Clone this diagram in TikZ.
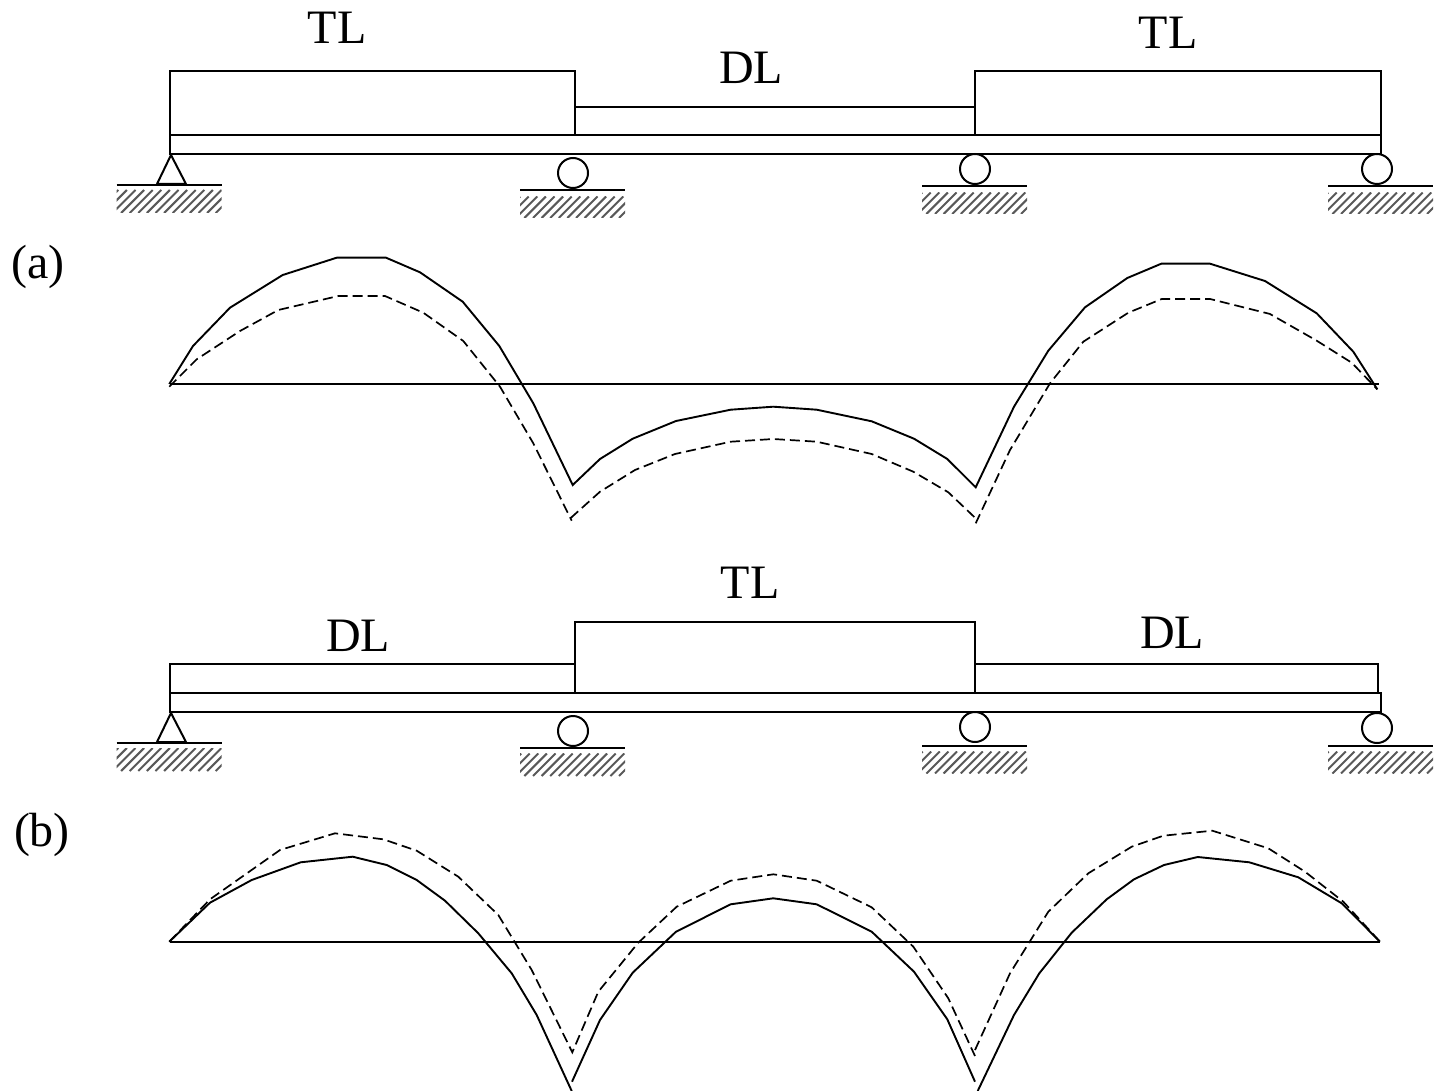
\documentclass[tikz,border=0pt]{standalone}
\usepackage{fontspec}
\setmainfont{Liberation Serif}
\newcommand{\hatchband}[4]{%
  \begin{scope}
    \clip (#1,#2) rectangle (#3,#4);
    \foreach \d in {0,8.6,...,146}
      \draw[hatchline] ({#1+\d-30},#4) -- ({#1+\d-30+(#4)-(#2)},#2);
  \end{scope}}
\newcommand{\roller}[5]{% cx, cy, ground y, hatch bottom, ground centre
  \draw[member] (#1,#2) circle[radius=15pt];
  \draw[member] ({#5-52.5},#3) -- ({#5+52.5},#3);
  \hatchband{#5-52.5}{#3+6}{#5+52.5}{#4}}
\newcommand{\hinge}[3]{% apex y, ground y, hatch bottom (x fixed)
  \draw[member] (171,#1) -- (157,#1+29) -- (186,#1+29) -- cycle;
  \draw[member] (116.7,#2) -- (221.7,#2);
  \hatchband{116.7}{#2+5}{221.7}{#3}}
\begin{document}
\begin{tikzpicture}[x=1pt,y=-1pt,
  member/.style={line width=2pt,black,line join=miter},
  moment/.style={line width=1.9pt,black,line join=miter},
  altmoment/.style={line width=1.7pt,black,dash pattern=on 10pt off 5pt},
  axisline/.style={line width=2.2pt,black},
  hatchline/.style={line width=2pt,black!65},
  lab/.style={font=\fontsize{48}{50}\selectfont,inner sep=0pt,text=black}]
\useasboundingbox (0,0) rectangle (1437,1091);
\fill[white] (0,0) rectangle (1437,1091);

% Beam (a)
\draw[member] (170,135) rectangle (1381,154);
\draw[member] (170,135) rectangle (575,71);
\draw[member] (575,135) -- (575,107) -- (975,107) -- (975,135);
\draw[member] (975,135) rectangle (1381,71);
\hinge{155}{185}{213}
\roller{573}{173}{190.5}{218}{572.5}
\roller{975}{169}{186.5}{214}{974.5}
\roller{1377}{169}{186.5}{214}{1380.5}
\node[lab] (tla) at (337,28) {TL};
\node[lab] (dla) at (751,68) {DL};
\node[lab] (tlb) at (1168,33) {TL};
\node[lab] (capa) at (38,267) {(a)};

% Moment (a)
\draw[axisline] (170,383.7) -- (1378.5,383.7);
\draw[moment] (169.3,384) -- (193,346) -- (230,307.7) -- (282.7,275) -- (336.7,257.7) -- (386,257.7) -- (420,272.3) -- (462.7,301.7) -- (499.3,346) -- (533.3,403.3) -- (572.7,485) -- (600,459) -- (632.7,438.7) -- (676,421) -- (730.7,409.7) -- (773.3,406.7) -- (816.7,409.7) -- (871.7,421.3) -- (914,438.7) -- (947.3,459) -- (975.7,487.3) -- (1014,406.7) -- (1048.3,350.7) -- (1085,307.3) -- (1127.3,278) -- (1161.3,263.7) -- (1210,263.7) -- (1265,281) -- (1316.7,313.3) -- (1353.3,351.7) -- (1377.3,389.3);
\draw[altmoment] (169.3,386.7) -- (196.7,359.3) -- (240,331) -- (278.3,310) -- (338.3,296) -- (385,296) -- (423.3,312.7) -- (463.3,341) -- (500,386.7) -- (533.3,443.3) -- (571.7,520.7);
\draw[altmoment] (570.7,518) -- (600,491.7) -- (635,470) -- (675,454) -- (730.7,441.7) -- (773.3,439) -- (816.7,441.7) -- (871.7,454) -- (913.3,471.7) -- (948.3,492.3) -- (976.7,519.3);
\draw[altmoment] (975.7,523.3) -- (1010,450) -- (1050,383.3) -- (1083.3,341.7) -- (1128.3,312.7) -- (1161.7,299) -- (1210,299) -- (1270,314) -- (1316.7,340.7) -- (1351.7,362.7) -- (1377.3,389.3);

% Beam (b)
\draw[member] (170,693) rectangle (1381,712);
\draw[member] (170,693) rectangle (575,664);
\draw[member] (575,693) rectangle (975,622);
\draw[member] (975,693) -- (975,664) -- (1378,664) -- (1378,693);
\hinge{713}{743}{771}
\roller{573}{731}{747.5}{776}{572.5}
\roller{975}{727}{745.5}{773.5}{974.5}
\roller{1377}{728}{745.5}{773.5}{1380.5}
\node[lab] (tlc) at (750,583) {TL};
\node[lab] (dlb) at (358,636) {DL};
\node[lab] (dlc) at (1172,633) {DL};
\node[lab] (capb) at (42,835) {(b)};

% Moment (b)
\draw[axisline] (170,941.7) -- (1380,941.7);
\draw[moment] (169.3,941.7) -- (210,902.7) -- (251.7,880) -- (300.7,862.3) -- (352.7,856.7) -- (386.7,865) -- (416.7,880) -- (445,900.7) -- (478.3,933.3) -- (511.7,973.3) -- (536.7,1015) -- (571.7,1091);
\draw[moment] (572,1081.7) -- (600,1020) -- (632.7,972.7) -- (676,931.7) -- (730.7,904.3) -- (773.3,898.3) -- (816.7,904.3) -- (871.7,931.7) -- (914,971.7) -- (947.3,1019.3) -- (975,1081.7);
\draw[moment] (977.7,1091) -- (1014,1015) -- (1039.3,973.3) -- (1071.7,932.7) -- (1106.7,899.3) -- (1134,879.3) -- (1164,865) -- (1197.7,857) -- (1249.3,862.3) -- (1298.3,877.3) -- (1341.7,903.3) -- (1380,941.7);
\draw[altmoment] (169.3,941.7) -- (210,899.3) -- (280,850) -- (335,833.3) -- (383.3,839.3) -- (416.7,850.7) -- (458.3,876.7) -- (498.3,915) -- (531.7,970) -- (572.3,1052.3) -- (598.3,991.7) -- (638,943) -- (676.7,906.7) -- (730.7,880.7) -- (773.3,874.3) -- (816.7,880.7) -- (871.7,907.3) -- (913.3,946.7) -- (948.3,998.3) -- (975,1056);
\draw[altmoment] (975,1050) -- (1010,973.3) -- (1048.3,911.7) -- (1088.3,873.3) -- (1131.7,846.7) -- (1163.3,835.7) -- (1212.3,830.7) -- (1268.3,848.3) -- (1305,871.7) -- (1343.3,901.7) -- (1380,941.7);
\end{tikzpicture}
\end{document}
